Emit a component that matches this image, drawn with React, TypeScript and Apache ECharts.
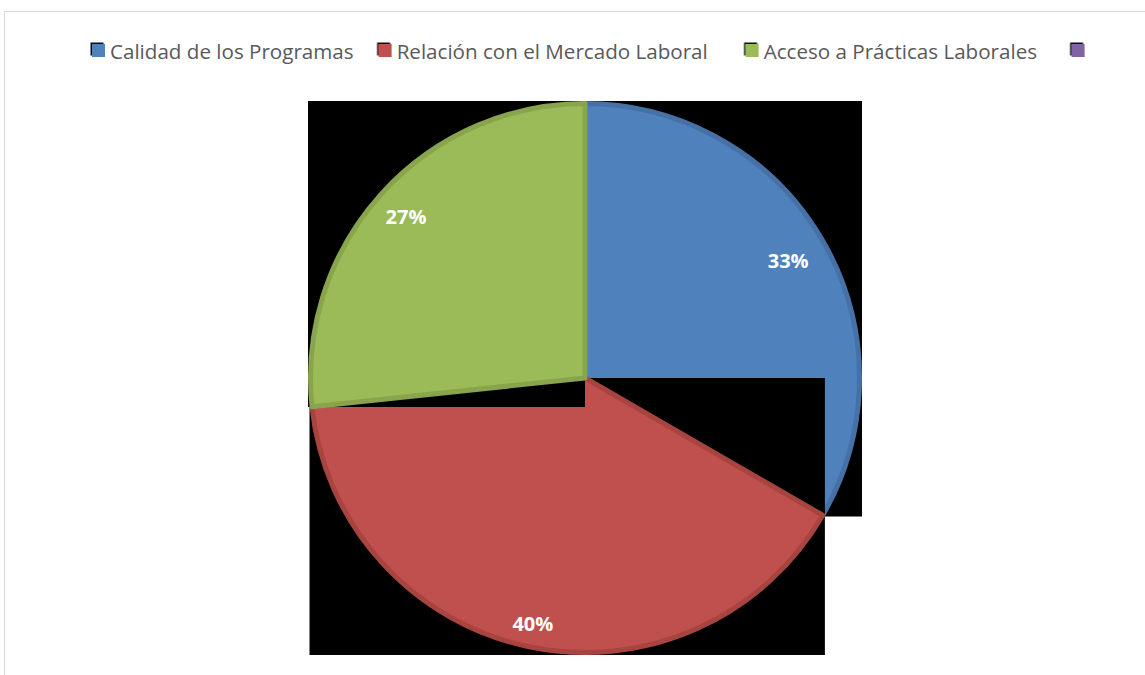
import React, { useEffect, useRef } from 'react';
import * as echarts from 'echarts';

// ---- data ----
const categories: string[] = [
  'Calidad de los Programas',
  'Relación con el Mercado Laboral',
  'Acceso a Prácticas Laborales',
  '\u00a0',
];
const values: (number | null)[] = [5, 6, 4, null];

// ---- styles ----
const fillColors = ['#4F81BD', '#C0504D', '#9BBB59', '#8064A2'];
const edgeColors = ['#4671A6', '#A8443F', '#88A54D', '#6F5790'];
const labelRadiusFactor = [0.836, 0.895, 0.859, 0.85];
const legendTextWidths = [243, 324, 283, 10];
const CX = 585;
const CY = 378;
const R = 277;
const EDGE = 5;
const FONT = 'Open Sans';

export default function App() {
  const ref = useRef<HTMLDivElement>(null);

  useEffect(() => {
    const chart = echarts.init(ref.current!, null, { renderer: 'svg' });
    const total = values.reduce<number>((s, v) => s + (v ?? 0), 0);

    const pt = (deg: number): [number, number] => [
      CX + R * Math.cos((deg * Math.PI) / 180),
      CY - R * Math.sin((deg * Math.PI) / 180),
    ];

    // bounding boxes of each slice (drawn in black beneath each slice)
    const graphics: any[] = [
      {
        type: 'rect',
        z: 0,
        silent: true,
        shape: { x: 4.5, y: 11.5, width: 1200, height: 700 },
        style: { fill: 'none', stroke: '#D9D9D9', lineWidth: 1 },
      },
    ];
    const series: any[] = [];
    let ang = 90;
    values.forEach((v, k) => {
      if (v == null) return;
      const a0 = ang;
      const a1 = ang - (360 * v) / total;
      ang = a1;
      const pts: [number, number][] = [[CX, CY], pt(a0), pt(a1)];
      for (let m = Math.ceil(a1 / 90); m <= Math.floor(a0 / 90); m++) pts.push(pt(m * 90));
      const xs = pts.map((p) => p[0]);
      const ys = pts.map((p) => p[1]);
      const x0 = Math.min(...xs);
      const y0 = Math.min(...ys);
      graphics.push({
        type: 'rect',
        z: 1 + 2 * k,
        silent: true,
        shape: { x: x0, y: y0, width: Math.max(...xs) - x0, height: Math.max(...ys) - y0 },
        style: { fill: '#000' },
      });
      series.push({
        type: 'pie',
        z: 2 + 2 * k,
        silent: true,
        center: [CX, CY],
        radius: [0, R - EDGE / 2],
        startAngle: 90,
        clockwise: true,
        avoidLabelOverlap: false,
        label: { show: false },
        labelLine: { show: false },
        emphasis: { disabled: true },
        data: categories.map((name, i) => ({
          name,
          value: values[i] ?? '-',
          itemStyle:
            i === k
              ? { color: fillColors[i], borderColor: edgeColors[i], borderWidth: EDGE }
              : { color: 'rgba(0,0,0,0)', borderWidth: 0 },
        })),
      });
      const d = labelRadiusFactor[k] * R;
      series.push({
        type: 'pie',
        z: 20,
        silent: true,
        center: [CX, CY],
        radius: [2 * d - R, R],
        startAngle: 90,
        clockwise: true,
        percentPrecision: 0,
        avoidLabelOverlap: false,
        labelLine: { show: false },
        emphasis: { disabled: true },
        label: {
          position: 'inside',
          formatter: '{d}%',
          color: '#FFFFFF',
          fontSize: 20,
          fontWeight: 'bold',
          fontFamily: FONT,
        },
        data: categories.map((name, i) => ({
          name,
          value: values[i] ?? '-',
          itemStyle: { color: 'rgba(0,0,0,0)', borderWidth: 0 },
          label: { show: i === k },
        })),
      });
    });

    chart.setOption({
      animation: false,
      backgroundColor: '#FFFFFF',
      legend: {
        left: 92,
        top: 40,
        padding: 0,
        orient: 'horizontal',
        icon: 'rect',
        itemWidth: 13,
        itemHeight: 13,
        itemGap: 25,
        selectedMode: false,
        textStyle: { color: '#595959', fontSize: 20.6, fontFamily: FONT, lineHeight: 13 },
        itemStyle: { borderWidth: 0 },
        data: categories.map((name, i) => ({
          name,
          itemStyle: {
            color: fillColors[i],
            borderWidth: 0,
            shadowColor: 'rgba(0,0,0,0.95)',
            shadowBlur: 0,
            shadowOffsetX: -1.5,
            shadowOffsetY: -1.5,
          },
          textStyle: { width: legendTextWidths[i], overflow: 'none' },
        })),
      },
      graphic: { elements: graphics },
      series,
    });

    return () => chart.dispose();
  }, []);

  return (
    <div
      ref={ref}
      style={{ position: 'fixed', left: 0, top: 0, width: 1145, height: 675, background: '#fff' }}
    />
  );
}
